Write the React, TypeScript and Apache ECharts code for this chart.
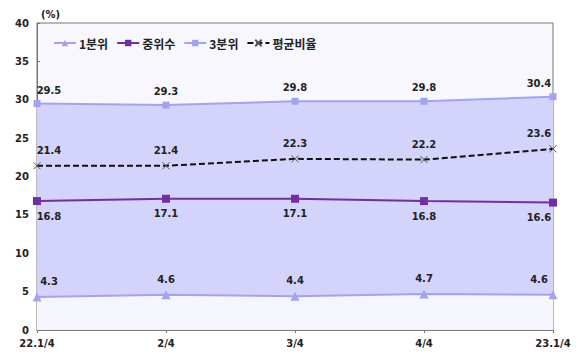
import React, { useEffect, useRef } from "react";
import * as echarts from "echarts";

const categories = ["22.1/4", "2/4", "3/4", "4/4", "23.1/4"];
const q1 = [4.3, 4.6, 4.4, 4.7, 4.6];
const median = [16.8, 17.1, 17.1, 16.8, 16.6];
const q3 = [29.5, 29.3, 29.8, 29.8, 30.4];
const avg = [21.4, 21.4, 22.3, 22.2, 23.6];
const yTicks = [0, 5, 10, 15, 20, 25, 30, 35, 40];

const FONT = "'DejaVu Sans', 'Noto Sans CJK KR', sans-serif";
const X_MARK = "path://M0,0L10,10M10,0L0,10";

function withEdgeLabels(values: number[]) {
  const n = values.length;
  return values.map((v, i) => {
    if (i === 0) return { value: v, label: { offset: [12, 0] } };
    if (i === n - 1) return { value: v, label: { offset: [-14, 0] } };
    return v;
  });
}

export default function App() {
  const ref = useRef<HTMLDivElement>(null);
  useEffect(() => {
    if (!ref.current) return;
    const chart = echarts.init(ref.current, null, { renderer: "svg" });
    const labelBase = {
      show: true,
      fontFamily: FONT,
      fontWeight: "bold" as const,
      fontSize: 10,
      color: "#222",
    };
    chart.setOption({
      animation: false,
      grid: {
        left: 37,
        right: 30,
        top: 23,
        bottom: 29,
        show: true,
        backgroundColor: "#f7f7fd",
        borderColor: "#777",
        borderWidth: 1,
      },
      legend: {
        left: 48,
        top: 32,
        itemWidth: 22,
        itemHeight: 8,
        itemGap: 8,
        textStyle: {
          fontFamily: "'Noto Sans CJK KR', 'DejaVu Sans', sans-serif",
          fontWeight: "bold",
          fontSize: 12,
          color: "#222",
          padding: [0, 0, 0, -2],
        },
        data: ["1분위", "중위수", "3분위", "평균비율"],
      },
      xAxis: {
        type: "category",
        data: categories,
        boundaryGap: false,
        axisLine: { lineStyle: { color: "#777" } },
        axisTick: { alignWithLabel: true, length: 3, lineStyle: { color: "#777" } },
        axisLabel: {
          fontFamily: FONT,
          fontWeight: "bold",
          fontSize: 10,
          color: "#222",
          margin: 8,
        },
      },
      yAxis: {
        type: "value",
        min: yTicks[0],
        max: yTicks[yTicks.length - 1],
        interval: 5,
        name: "(%)",
        nameGap: 4,
        nameTextStyle: {
          fontFamily: FONT,
          fontWeight: "bold",
          fontSize: 10,
          color: "#222",
          align: "left",
          padding: [0, 0, 0, 4],
        },
        splitLine: { show: false },
        axisLine: { show: true, lineStyle: { color: "#777" } },
        axisTick: { show: true, inside: true, length: 3, lineStyle: { color: "#777" } },
        axisLabel: {
          fontFamily: FONT,
          fontWeight: "bold",
          fontSize: 10,
          color: "#222",
          margin: 8,
        },
      },
      series: [
        {
          name: "3분위",
          type: "line",
          z: 2,
          data: withEdgeLabels(q3),
          symbol: "rect",
          symbolSize: 7,
          lineStyle: { color: "#a3a3f0", width: 2 },
          itemStyle: { color: "#a3a3f0" },
          areaStyle: { color: "#d3d3fb", opacity: 1, origin: "start" },
          label: { ...labelBase, position: "top", distance: 5 },
        },
        {
          name: "1분위",
          type: "line",
          z: 3,
          data: withEdgeLabels(q1),
          symbol: "triangle",
          symbolSize: 9,
          lineStyle: { color: "#a3a3f0", width: 2 },
          itemStyle: { color: "#a3a3f0" },
          areaStyle: { color: "#f5f5fd", opacity: 1, origin: "start" },
          label: { ...labelBase, position: "top", distance: 6 },
        },
        {
          name: "중위수",
          type: "line",
          z: 4,
          data: withEdgeLabels(median),
          symbol: "rect",
          symbolSize: 8,
          lineStyle: { color: "#7030a0", width: 2 },
          itemStyle: { color: "#7030a0" },
          label: { ...labelBase, position: "bottom", distance: 6 },
        },
        {
          name: "평균비율",
          type: "line",
          z: 5,
          data: withEdgeLabels(avg),
          symbol: X_MARK,
          symbolSize: 7,
          lineStyle: { color: "#111", width: 2, type: [6, 3] },
          itemStyle: { color: "#555", borderColor: "#555", borderWidth: 1 },
          label: { ...labelBase, position: "top", distance: 6 },
        },
      ],
    });
    return () => chart.dispose();
  }, []);
  return <div ref={ref} style={{ width: 583, height: 359, margin: -8 }} />;
}
